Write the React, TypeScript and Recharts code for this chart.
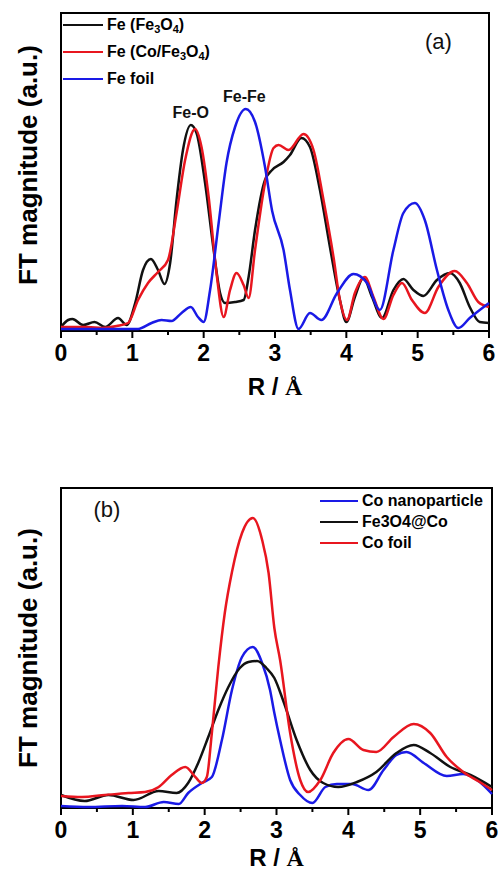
import React from 'react';
import { LineChart, Line, XAxis, YAxis, Legend, ReferenceArea, ReferenceDot } from 'recharts';

// ---- panel (a): Fe K-edge FT magnitudes (arbitrary units) ----
const feOxideR = [0, 0.1, 0.16, 0.31, 0.47, 0.62, 0.8, 0.92, 1.04, 1.15, 1.26, 1.36, 1.45, 1.53, 1.62, 1.71, 1.82, 1.9, 2.02, 2.14, 2.23, 2.3, 2.44, 2.56, 2.63, 2.72, 2.86, 2.96, 3.12, 3.21, 3.37, 3.49, 3.63, 3.77, 3.91, 4.0, 4.12, 4.24, 4.36, 4.5, 4.66, 4.8, 4.94, 5.08, 5.27, 5.45, 5.59, 5.73, 5.87, 6.0];
const feOxideY = [4, 11, 12, 6, 9, 4, 13, 6, 28, 61, 72, 61, 47, 68, 131, 181, 206, 198, 148, 81, 38, 28, 29, 31, 54, 101, 151, 161, 169, 176, 193, 184, 141, 84, 31, 9, 34, 53, 34, 13, 41, 52, 41, 35, 51, 58, 48, 24, 9, 8];

const feCoOxideR = [0, 0.2, 0.38, 0.57, 0.78, 0.94, 1.08, 1.22, 1.36, 1.5, 1.62, 1.74, 1.88, 1.97, 2.07, 2.18, 2.28, 2.37, 2.46, 2.56, 2.63, 2.72, 2.86, 2.98, 3.05, 3.19, 3.4, 3.54, 3.68, 3.82, 3.91, 4.01, 4.12, 4.26, 4.38, 4.52, 4.66, 4.78, 4.92, 5.1, 5.29, 5.52, 5.69, 5.85, 6.0];
const feCoOxideY = [4, 4, 4, 3, 5, 8, 31, 48, 59, 71, 118, 171, 202, 184, 134, 58, 14, 41, 58, 46, 33, 81, 148, 183, 186, 181, 197, 181, 131, 74, 31, 11, 38, 54, 34, 12, 36, 48, 31, 18, 44, 60, 48, 29, 24];

const feFoilR = [0, 0.5, 0.9, 1.08, 1.27, 1.41, 1.55, 1.69, 1.82, 1.92, 2.0, 2.09, 2.21, 2.32, 2.44, 2.59, 2.72, 2.86, 2.96, 3.12, 3.21, 3.33, 3.49, 3.65, 3.87, 4.1, 4.29, 4.47, 4.66, 4.8, 4.96, 5.1, 5.27, 5.43, 5.57, 5.73, 6.0];
const feFoilY = [2, 2, 2, 2, 8, 11, 10, 18, 24, 14, 9, 41, 108, 168, 204, 222, 209, 164, 120, 81, 41, 2, 18, 11, 38, 57, 48, 21, 81, 118, 128, 111, 61, 21, 3, 13, 28];

// ---- panel (b): Co K-edge FT magnitudes ----
const coNanoR = [0, 0.38, 0.85, 1.17, 1.43, 1.64, 1.77, 1.96, 2.1, 2.24, 2.38, 2.52, 2.67, 2.8, 2.91, 2.97, 3.05, 3.19, 3.33, 3.5, 3.68, 3.84, 4.05, 4.28, 4.49, 4.67, 4.81, 5.05, 5.37, 5.6, 5.83, 6.0];
const coNanoY = [2, 1, 2, 1, 6, 4, 15, 25, 31, 68, 118, 151, 161, 145, 118, 95, 68, 28, 13, 5, 21, 24, 24, 18, 38, 53, 56, 45, 32, 34, 26, 14];

const coreShellR = [0, 0.33, 0.66, 1.01, 1.36, 1.61, 1.77, 1.91, 2.05, 2.19, 2.33, 2.49, 2.61, 2.73, 2.86, 2.97, 3.09, 3.28, 3.47, 3.65, 3.86, 4.12, 4.39, 4.67, 4.91, 5.14, 5.42, 5.7, 6.0];
const coreShellY = [13, 7, 13, 8, 17, 15, 25, 45, 71, 98, 121, 140, 146, 147, 140, 130, 108, 68, 38, 25, 21, 26, 36, 55, 63, 55, 41, 33, 21];

const coFoilR = [0, 0.29, 0.61, 0.94, 1.17, 1.36, 1.54, 1.73, 1.87, 1.96, 2.03, 2.1, 2.19, 2.28, 2.38, 2.52, 2.67, 2.8, 2.89, 2.97, 3.05, 3.19, 3.33, 3.44, 3.61, 3.79, 4.0, 4.21, 4.39, 4.63, 4.91, 5.14, 5.37, 5.6, 5.83, 6.0];
const coFoilY = [12, 11, 13, 15, 16, 21, 33, 41, 31, 25, 31, 75, 141, 195, 236, 275, 290, 268, 235, 180, 148, 75, 28, 16, 28, 55, 69, 58, 56, 71, 84, 75, 51, 36, 26, 18];

const xTicks = [0, 0.5, 1, 1.5, 2, 2.5, 3, 3.5, 4, 4.5, 5, 5.5, 6];
const namesA = ['Fe (Fe3O4)', 'Fe (Co/Fe3O4)', 'Fe foil'];
const namesB = ['Co nanoparticle', 'Fe3O4@Co', 'Co foil'];

const BLACK = '#111111';
const RED = '#e8161f';
const BLUE = '#1a1ae6';
const FONT = '"Liberation Sans", Arial, sans-serif';

const toPoints = (r: number[], y: number[]) => r.map((v, i) => ({ r: v, ft: y[i] }));

const seriesA = [
  { name: namesA[0], color: BLACK, data: toPoints(feOxideR, feOxideY) },
  { name: namesA[1], color: RED, data: toPoints(feCoOxideR, feCoOxideY) },
  { name: namesA[2], color: BLUE, data: toPoints(feFoilR, feFoilY) },
];
const seriesB = [
  { name: namesB[0], color: BLUE, data: toPoints(coNanoR, coNanoY) },
  { name: namesB[1], color: BLACK, data: toPoints(coreShellR, coreShellY) },
  { name: namesB[2], color: RED, data: toPoints(coFoilR, coFoilY) },
];

// digits become subscripts (Fe3O4 -> Fe₃O₄)
const withSubs = (s: string) =>
  s.split(/(\d)/).map((p, i) => (/\d/.test(p) ? <sub key={i} style={{ fontSize: 11, verticalAlign: -3 }}>{p}</sub> : <span key={i}>{p}</span>));

const XTick = (props: any) => {
  const { x, y, payload } = props;
  const major = Number.isInteger(payload.value);
  return (
    <g>
      <line x1={x} x2={x} y1={y} y2={y + (major ? 7 : 4)} stroke="#000" strokeWidth={2} />
      {major && (
        <text x={x} y={y + 30} textAnchor="middle" fontFamily={FONT} fontWeight="bold" fontSize={23} fill="#000">
          {payload.value}
        </text>
      )}
    </g>
  );
};

const YLabel = ({ cx, cy }: { cx: number; cy: number }) => (
  <text transform={`translate(${cx},${cy}) rotate(-90)`} textAnchor="middle" dominantBaseline="central"
    fontFamily={FONT} fontWeight="bold" fontSize={26} fill="#000">
    FT magnitude (a.u.)
  </text>
);

const XLabel = ({ cx, baseY }: { cx: number; baseY: number }) => (
  <text x={cx} y={baseY} textAnchor="middle" fontFamily={FONT} fontWeight="bold" fontSize={24} fill="#000">
    R / <tspan fontFamily='"Liberation Serif", serif'>Å</tspan>
  </text>
);

const LegendBox = ({ items, rowH, lineW, subs }: any) => (
  <div style={{ fontFamily: FONT, fontWeight: 'bold', fontSize: 16, color: '#000' }}>
    {items.map((s: any) => (
      <div key={s.name} style={{ display: 'flex', alignItems: 'center', height: rowH, whiteSpace: 'nowrap' }}>
        <span style={{ display: 'inline-block', width: lineW, height: 2.5, background: s.color, marginRight: 4 }} />
        <span>{subs ? withSubs(s.name) : s.name}</span>
      </div>
    ))}
  </div>
);

const annotation = (value: string, bold: boolean, size: number) => ({
  value,
  position: 'center' as const,
  fontFamily: FONT,
  fontWeight: bold ? 'bold' : 'normal',
  fontSize: size,
  fill: '#111',
});

export default function App() {
  return (
    <div style={{ position: 'absolute', left: 0, top: 0, width: 498, height: 871, background: '#fff' }}>
      <div style={{ position: 'absolute', left: 0, top: 0 }}>
        <LineChart width={498} height={420} margin={{ top: 13, right: 9, bottom: 29, left: 0 }}>
          <XAxis type="number" dataKey="r" domain={[0, 6]} ticks={xTicks} interval={0} height={60}
            axisLine={false} tickLine={false} tickSize={0} tickMargin={0} tick={<XTick />}
            label={<XLabel cx={275} baseY={395} />} allowDuplicatedCategory={false} />
          <YAxis type="number" domain={[0, 318]} width={61} tick={false} axisLine={false} tickLine={false}
            label={<YLabel cx={28} cy={165} />} />
          <ReferenceArea x1={0} x2={6} y1={0} y2={318} fill="none" stroke="#000" strokeWidth={2} />
          {seriesA.map((s) => (
            <Line key={s.name} data={s.data} dataKey="ft" name={s.name} type="monotone" stroke={s.color}
              strokeWidth={2.5} dot={false} activeDot={false} isAnimationActive={false} />
          ))}
          <ReferenceDot x={1.82} y={218.5} r={0} fill="none" stroke="none" label={annotation('Fe-O', true, 16)} />
          <ReferenceDot x={2.57} y={235} r={0} fill="none" stroke="none" label={annotation('Fe-Fe', true, 16)} />
          <ReferenceDot x={5.29} y={289.5} r={0} fill="none" stroke="none" label={annotation('(a)', false, 22)} />
          <Legend layout="vertical" verticalAlign="middle" align="center"
            wrapperStyle={{ left: 63, top: 11.5, width: 200 }}
            content={() => <LegendBox items={seriesA} rowH={27} lineW={40} subs />} />
        </LineChart>
      </div>

      <div style={{ position: 'absolute', left: 0, top: 450 }}>
        <LineChart width={498} height={421} margin={{ top: 38, right: 6, bottom: 3, left: 0 }}>
          <XAxis type="number" dataKey="r" domain={[0, 6]} ticks={xTicks} interval={0} height={60}
            axisLine={false} tickLine={false} tickSize={0} tickMargin={0} tick={<XTick />}
            label={<XLabel cx={276.5} baseY={415.5} />} allowDuplicatedCategory={false} />
          <YAxis type="number" domain={[0, 320]} width={61} tick={false} axisLine={false} tickLine={false}
            label={<YLabel cx={28} cy={198} />} />
          <ReferenceArea x1={0} x2={6} y1={0} y2={320} fill="none" stroke="#000" strokeWidth={2} />
          {seriesB.map((s) => (
            <Line key={s.name} data={s.data} dataKey="ft" name={s.name} type="monotone" stroke={s.color}
              strokeWidth={2.5} dot={false} activeDot={false} isAnimationActive={false} />
          ))}
          <ReferenceDot x={0.64} y={298.5} r={0} fill="none" stroke="none" label={annotation('(b)', false, 22)} />
          <Legend layout="vertical" verticalAlign="middle" align="center"
            wrapperStyle={{ left: 320, top: 40.5, width: 180 }}
            content={() => <LegendBox items={seriesB} rowH={21} lineW={38} />} />
        </LineChart>
      </div>
    </div>
  );
}
